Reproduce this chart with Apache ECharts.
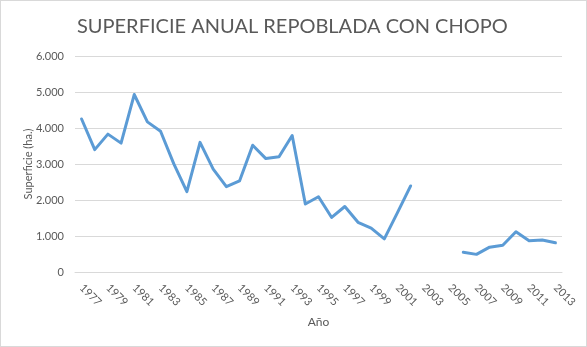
<!DOCTYPE html>
<html>
<head>
<meta charset="utf-8">
<script src="https://cdn.jsdelivr.net/npm/echarts@6/dist/echarts.min.js"></script>
<style>
  html, body { margin: 0; padding: 0; background: #fff; }
  #chart { width: 587px; height: 347px; box-sizing: border-box; border: 1px solid #d9d9d9; }
</style>
</head>
<body>
<div id="chart"></div>
<script>
// Años 1977–2013
const years = [];
for (let y = 1977; y <= 2013; y++) years.push(String(y));

// Superficie repoblada con chopo (ha.); sin datos 2003–2005
const superficie = [
  4250, 3400, 3830, 3580, 4930, 4170, 3910, 3010, 2230, 3600,
  2860, 2370, 2530, 3520, 3150, 3200, 3790, 1890, 2090, 1515,
  1820, 1380, 1220, 920, 1650, 2390, null, null, null, 550,
  490, 690, 745, 1120, 870, 890, 810
];

const yTicks = { min: 0, max: 6000, interval: 1000 };

function fmtMiles(v) {
  if (v === 0) return '0';
  return String(v).replace(/\B(?=(\d{3})+(?!\d))/g, '.');
}

const chart = echarts.init(document.getElementById('chart'), null, { renderer: 'canvas' });
const font = 'Lato, "Open Sans", sans-serif';
chart.setOption({
  animation: false,
  textStyle: { fontFamily: font },
  title: {
    text: 'SUPERFICIE ANUAL REPOBLADA CON CHOPO',
    left: 71, top: 11,
    textStyle: { fontFamily: font, fontSize: 20, fontWeight: 'normal', color: '#595959' }
  },
  grid: { left: 74, right: 24, top: 55, bottom: 74, containLabel: false },
  xAxis: {
    type: 'category',
    data: years,
    boundaryGap: true,
    name: 'Año',
    nameLocation: 'middle',
    nameGap: 44,
    nameMoveOverlap: false,
    nameTextStyle: { fontFamily: font, fontSize: 12, color: '#595959' },
    axisLine: { lineStyle: { color: '#d9d9d9' } },
    axisTick: { show: false },
    axisLabel: { interval: 1, rotate: -45, fontSize: 11, color: '#595959', fontFamily: font, margin: 14 }
  },
  yAxis: {
    type: 'value',
    min: yTicks.min, max: yTicks.max, interval: yTicks.interval,
    name: 'Superficie (ha.)',
    nameLocation: 'middle',
    nameGap: 41,
    nameRotate: 90,
    nameMoveOverlap: false,
    nameTextStyle: { fontFamily: font, fontSize: 11, color: '#595959' },
    axisLine: { show: false },
    axisTick: { show: false },
    splitLine: { lineStyle: { color: '#d9d9d9', width: 1 } },
    axisLabel: { formatter: fmtMiles, fontSize: 11, color: '#595959', fontFamily: font, margin: 11 }
  },
  series: [{
    type: 'line',
    data: superficie,
    connectNulls: false,
    showSymbol: false,
    symbol: 'none',
    lineStyle: { color: '#5b9bd5', width: 3, cap: 'round', join: 'round' },
    itemStyle: { color: '#5b9bd5' }
  }]
});
</script>
</body>
</html>
